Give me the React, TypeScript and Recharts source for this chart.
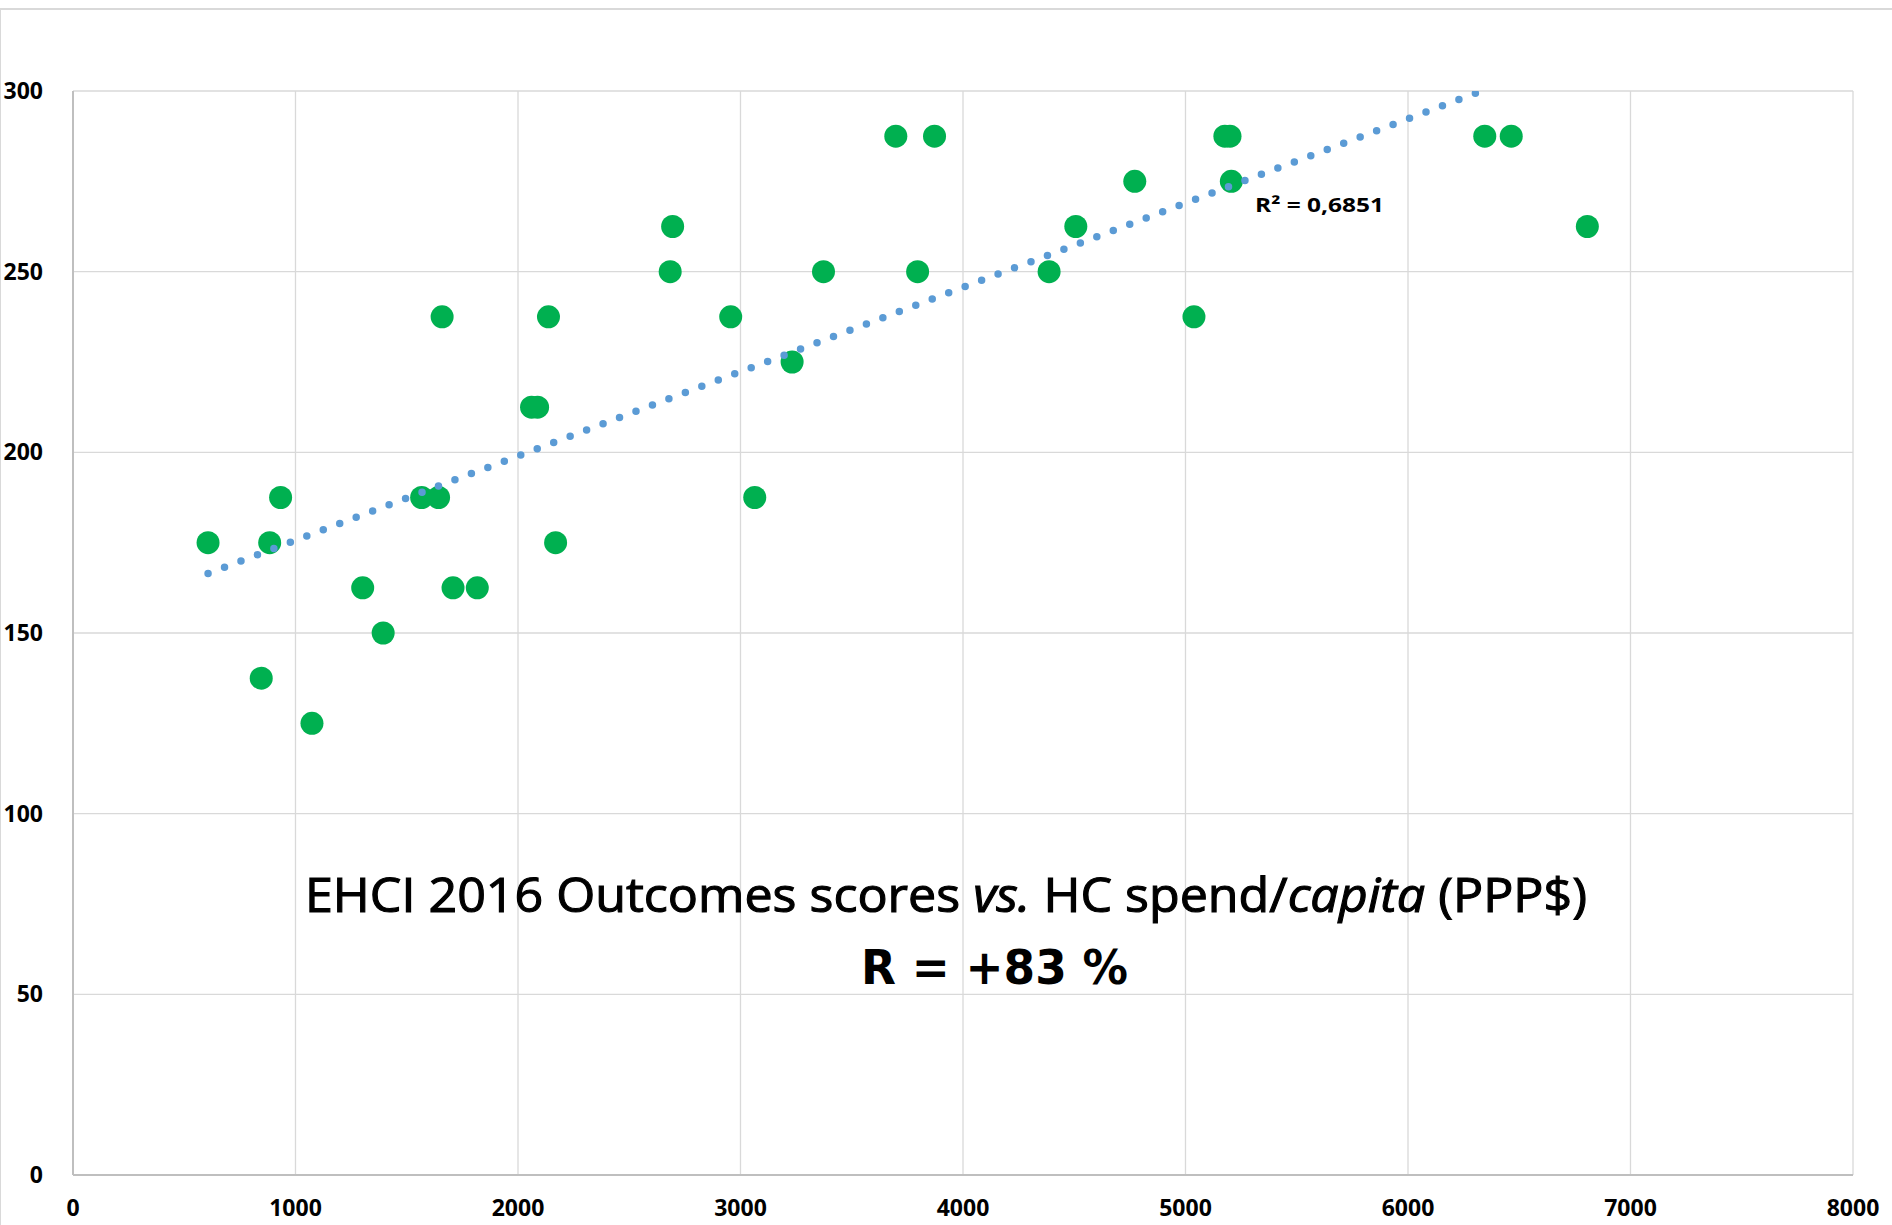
import React from 'react';
import { ScatterChart, Scatter, XAxis, YAxis, CartesianGrid } from 'recharts';

// health care spend per capita (PPP$) and EHCI 2016 outcomes score, one entry per country
const spend = [
  607, 846, 884, 933, 1074, 1302, 1394, 1567, 1643, 1659, 1708, 1817, 2061, 2088, 2137, 2169,
  2684, 2695, 2956, 3064, 3232, 3373, 3698, 3796, 3872, 4387, 4507, 4772, 5038, 5177, 5200,
  5206, 6345, 6464, 6806,
];
const outcomes = [
  175, 137.5, 175, 187.5, 125, 162.5, 150, 187.5, 187.5, 237.5, 162.5, 162.5, 212.5, 212.5,
  237.5, 175, 250, 262.5, 237.5, 187.5, 225, 250, 287.5, 250, 287.5, 250, 262.5, 275, 237.5,
  287.5, 287.5, 275, 287.5, 287.5, 262.5,
];

// linear trend line ends (clipped at the top of the plot)
const trendX = [607, 6330];
const trendY = [166.5, 300];

const xTicks = [0, 1000, 2000, 3000, 4000, 5000, 6000, 7000, 8000];
const yTicks = [0, 50, 100, 150, 200, 250, 300];

const points = spend.map((x, i) => ({ x, y: outcomes[i] }));
const trend = trendX.map((x, i) => ({ x, y: trendY[i] }));

const W = 1892;
const H = 1225;
const FONT = "'Open Sans', sans-serif";

const tickStyle = { fill: '#000', fontSize: 23, fontWeight: 700, fontFamily: FONT };

const Dot = (props: any) => <circle cx={props.cx} cy={props.cy} r={11.5} fill="#00B050" />;
const NoDot = () => <g />;

export default function App() {
  return (
    <div style={{ position: 'absolute', left: 0, top: 0, width: W, height: H, overflow: 'hidden', background: '#fff' }}>
      <div
        style={{
          position: 'absolute',
          left: 0,
          top: 8,
          width: W + 20,
          height: H,
          borderTop: '2px solid #d9d9d9',
          borderLeft: '1px solid #d9d9d9',
        }}
      />
      <div style={{ position: 'absolute', left: 0, top: 0 }}>
        <ScatterChart width={W} height={H} margin={{ top: 91, right: 39, bottom: 0, left: 0 }}>
          <CartesianGrid stroke="#d9d9d9" strokeWidth={1.3} />
          <XAxis
            type="number"
            dataKey="x"
            domain={[0, 8000]}
            ticks={xTicks}
            interval={0}
            height={50}
            axisLine={{ stroke: '#bfbfbf', strokeWidth: 2 }}
            tickLine={false}
            tickMargin={19}
            tick={tickStyle}
            allowDataOverflow
          />
          <YAxis
            type="number"
            dataKey="y"
            domain={[0, 300]}
            ticks={yTicks}
            interval={0}
            width={73}
            axisLine={{ stroke: '#bfbfbf', strokeWidth: 2 }}
            tickLine={false}
            tickMargin={24}
            tick={tickStyle}
            allowDataOverflow
          />
          <Scatter data={points} shape={Dot} isAnimationActive={false} />
          <Scatter
            data={trend}
            shape={NoDot}
            line={{ stroke: '#5B9BD5', strokeWidth: 7.5, strokeDasharray: '0 17.6', strokeLinecap: 'round' }}
            isAnimationActive={false}
          />
        </ScatterChart>
      </div>
      <svg width={W} height={H} style={{ position: 'absolute', left: 0, top: 0, pointerEvents: 'none' }}>
        <text x={1255} y={212} fontFamily={FONT} fontWeight={700} fontSize={20} fill="#000" textLength={129} lengthAdjust="spacingAndGlyphs">
          R² = 0,6851
        </text>
        <text
          x={305}
          y={912}
          fontFamily={FONT}
          fontSize={48}
          fill="#000"
          stroke="#000"
          strokeWidth={1.1}
          textLength={1282}
          lengthAdjust="spacingAndGlyphs"
        >
          EHCI 2016 Outcomes scores <tspan fontStyle="italic">vs.</tspan> HC spend/<tspan fontStyle="italic">capita</tspan> (PPP$)
        </text>
        <text x={861} y={984} fontFamily="'DejaVu Sans', sans-serif" fontWeight={700} fontSize={48} fill="#000" textLength={267} lengthAdjust="spacingAndGlyphs">
          R = +83 %
        </text>
      </svg>
    </div>
  );
}
